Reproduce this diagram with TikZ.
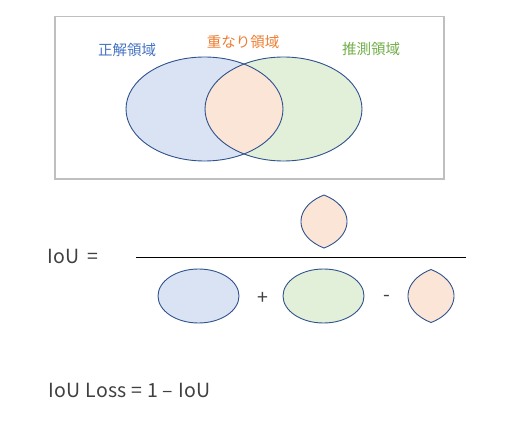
\documentclass[tikz,border=0pt]{standalone}
\usepackage{fontspec}
\newfontfamily\jpfont{Noto Sans CJK JP}
\newfontfamily\eqfont[LetterSpace=2]{Noto Sans CJK JP}
\definecolor{gtfill}{HTML}{DAE3F3}   % ground truth
\definecolor{prfill}{HTML}{E2F0D9}   % prediction
\definecolor{ovfill}{HTML}{FBE5D6}   % overlap
\definecolor{edge}{HTML}{2F528F}
\definecolor{gtlbl}{HTML}{4472C4}
\definecolor{prlbl}{HTML}{70AD47}
\definecolor{ovlbl}{HTML}{ED7D31}
\definecolor{txt}{HTML}{404040}
\definecolor{frame}{HTML}{BFBFBF}

% lens = overlap of two ellipses (a=78.5, b=52, centres 79 apart), scaled by #3
\newcommand\lens[3]{%
	\filldraw[region, fill=ovfill] (#1,{#2+44.9*#3})
		arc[start angle=120.2, end angle=239.8, x radius={78.5*#3}, y radius={52*#3}]
		arc[start angle=-59.8, end angle=59.8, x radius={78.5*#3}, y radius={52*#3}] -- cycle;}

\begin{document}
\begin{tikzpicture}[x=1pt,y=1pt,
	region/.style={draw=edge, line width=0.9pt},
	areatext/.style={font=\jpfont\fontsize{14.5}{16}\selectfont, inner sep=0pt},
	eqtext/.style={font=\eqfont\fontsize{19.5}{21}\selectfont, text=txt, inner sep=0pt}]
	\useasboundingbox (0,0) rectangle (512,421);
	\def\a{78.5}	%x radius of big ellipses
	\def\b{52}		%y radius of big ellipses

	% venn diagram
	\draw[frame, line width=1.2pt] (55,404.5) rectangle (444,242);
	\fill[gtfill] (204.5,312) ellipse [x radius=\a, y radius=\b];
	\fill[prfill] (283.5,312) ellipse [x radius=\a, y radius=\b];
	\fill[ovfill] (244,{312+44.9})
		arc[start angle=120.2, end angle=239.8, x radius=\a, y radius=\b]
		arc[start angle=-59.8, end angle=59.8, x radius=\a, y radius=\b] -- cycle;
	\draw[region] (204.5,312) ellipse [x radius=\a, y radius=\b];
	\draw[region] (283.5,312) ellipse [x radius=\a, y radius=\b];
	\node[areatext, text=gtlbl] (gt) at (127,371) {正解領域};
	\node[areatext, text=ovlbl] (ov) at (243,379) {重なり領域};
	\node[areatext, text=prlbl] (pr) at (371,372.5) {推測領域};

	% IoU formula
	\node[eqtext, anchor=base west] (iou) at (47,157) {IoU\ \,=};
	\coordinate (barl) at (136,164);
	\coordinate (barr) at (466,164);
	\draw[line width=0.9pt] (barl) -- (barr);
	\lens{324}{199.5}{0.59}
	\filldraw[region, fill=gtfill] (198.5,125) ellipse [x radius=40.5, y radius=27];
	\node[eqtext] (plus) at (263,123) {+};
	\filldraw[region, fill=prfill] (323.5,125) ellipse [x radius=40.5, y radius=27];
	\node[eqtext] (minus) at (387,123) {-};
	\lens{431}{125}{0.59}

	\node[eqtext, anchor=base west] (loss) at (48,23.7) {IoU\ Loss\ =\ 1\ –\ IoU};
\end{tikzpicture}
\end{document}
